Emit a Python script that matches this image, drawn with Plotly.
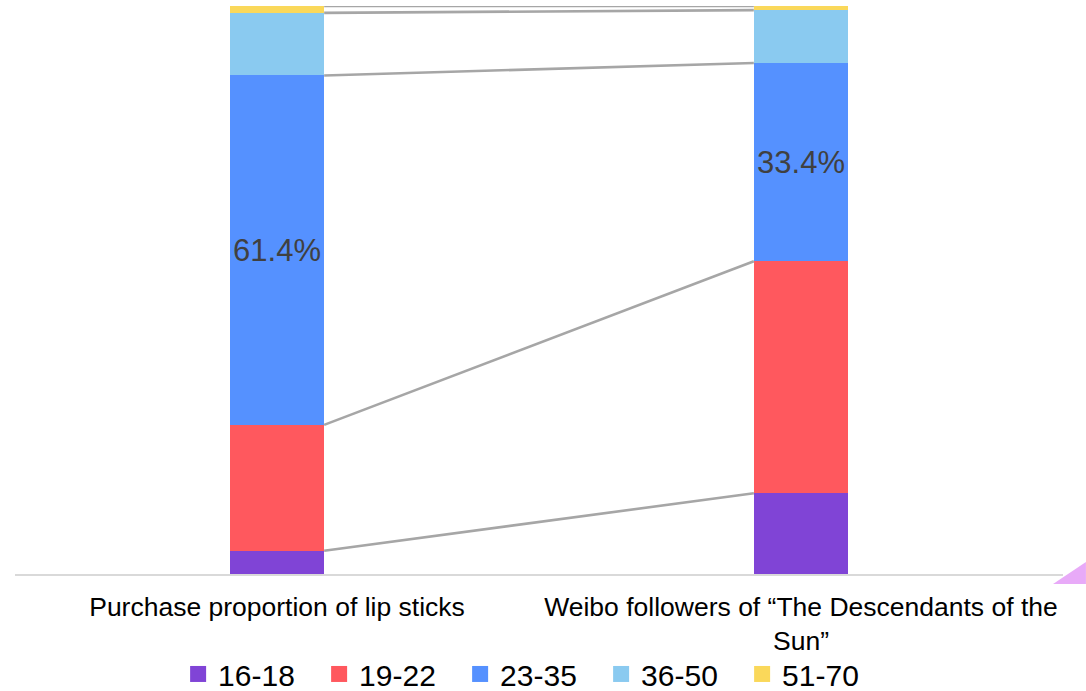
import plotly.graph_objects as go

# data
categories = ["Purchase proportion of lip sticks",
              "Weibo followers of \u201cThe Descendants of the<br>Sun\u201d"]
age_groups = ["16-18", "19-22", "23-35", "36-50", "51-70"]
lipstick = [4.1, 22.1, 61.4, 11.0, 1.2]
weibo = [13.6, 39.1, 33.4, 8.9, 0.7]
labelled_group = "23-35"

colors = ["#8044D6", "#FF585E", "#5591FF", "#8ACAF0", "#FAD85A"]
FONT = "Arial, Liberation Sans, sans-serif"
BAR_W = 0.18

fig = go.Figure()

for i, grp in enumerate(age_groups):
    vals = [lipstick[i], weibo[i]]
    txt = [f"{v}%" for v in vals] if grp == labelled_group else None
    fig.add_trace(go.Bar(
        x=[0, 1], y=vals, width=BAR_W, name=grp,
        marker=dict(color=colors[i], line=dict(width=0)),
        text=txt, textposition="inside", insidetextanchor="middle",
        constraintext="none",
        textfont=dict(size=31, color="#404040", family=FONT),
        showlegend=False, hoverinfo="skip"
    ))

# series lines joining segment tops (percent stacked)
def cum_pct(vals):
    tot = sum(vals)
    out, run = [], 0
    for v in vals:
        run += v
        out.append(run / tot * 100)
    return out

c1, c2 = cum_pct(lipstick), cum_pct(weibo)
for i in range(len(age_groups)):
    fig.add_trace(go.Scatter(
        x=[BAR_W / 2, 1 - BAR_W / 2], y=[c1[i], c2[i]], mode="lines",
        line=dict(color="#A6A6A6", width=2.6), cliponaxis=False,
        showlegend=False, hoverinfo="skip"
    ))

# legend entries
for i, grp in enumerate(age_groups):
    fig.add_trace(go.Scatter(
        x=[None], y=[None], mode="markers", name=grp,
        marker=dict(symbol="square", size=20, color=colors[i])
    ))

fig.update_layout(
    barmode="stack", barnorm="percent",
    width=1086, height=691,
    margin=dict(l=15, r=23, t=6, b=117, autoexpand=False),
    paper_bgcolor="white", plot_bgcolor="white",
    font=dict(family=FONT, color="black"),
    xaxis=dict(range=[-0.5, 1.5], tickvals=[0, 1], ticktext=categories,
               showgrid=False, zeroline=False, showline=True,
               linecolor="#D9D9D9", linewidth=2, ticks="",
               ticklabelstandoff=8, automargin=False,
               tickfont=dict(size=26.5, color="black", family=FONT)),
    yaxis=dict(range=[0, 100], visible=False),
    legend=dict(orientation="h", x=0.492, xanchor="center", y=-0.176, yanchor="middle",
                font=dict(size=30, color="black", family=FONT),
                bgcolor="rgba(0,0,0,0)", traceorder="normal",
                entrywidth=96, itemsizing="trace"),
    shapes=[dict(type="path", xref="paper", yref="paper",
                 path="M 0.9905,-0.0176 L 1.0219,-0.0176 L 1.0219,0.0211 Z",
                 fillcolor="#E8AAF8", line=dict(width=0))],
)

fig.write_html("out.html", config={"displayModeBar": False},
               post_script="document.body.style.margin='0';")
